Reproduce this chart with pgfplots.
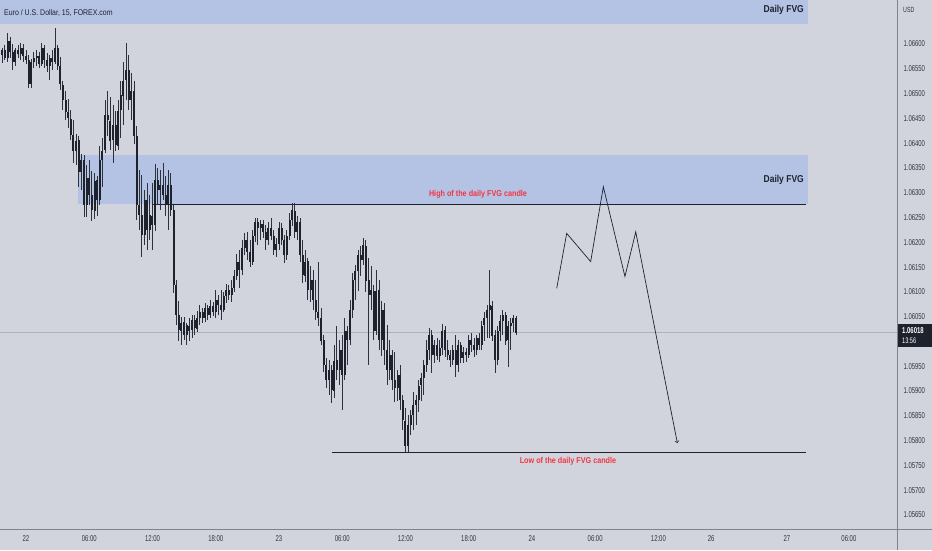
\documentclass[border=0pt]{standalone}
\usepackage{pgfplots}
\pgfplotsset{compat=1.18}
\usepackage{pgfplotstable}
\usepackage{fontspec}
\setmainfont{Liberation Sans}[FakeStretch=0.85]
\newfontfamily\narrowfont{Liberation Sans}[FakeStretch=0.7]
\definecolor{bg}{RGB}{209,212,220}
\definecolor{band}{RGB}{180,194,228}
\definecolor{candle}{RGB}{30,34,45}
\definecolor{wick}{RGB}{45,49,60}
\definecolor{tvred}{RGB}{242,54,69}
\definecolor{axtext}{RGB}{50,53,63}
\definecolor{lastline}{RGB}{175,178,187}
\definecolor{border}{RGB}{128,131,142}

\pgfplotstableread{
x o h l c
-9 1.06578 1.06592 1.06562 1.06588
-8 1.06588 1.06598 1.06568 1.06572
-7 1.06572 1.06624 1.06564 1.06608
-6 1.06608 1.06616 1.06572 1.06584
-5 1.06584 1.06600 1.06548 1.06564
-4 1.06564 1.06592 1.06556 1.06588
-3 1.06588 1.06598 1.06572 1.06580
-2 1.06580 1.06602 1.06568 1.06592
-1 1.06592 1.06600 1.06564 1.06576
0 1.06576 1.06588 1.06560 1.06568
1 1.06568 1.06578 1.06511 1.06519
2 1.06519 1.06572 1.06513 1.06564
3 1.06564 1.06584 1.06552 1.06572
4 1.06572 1.06588 1.06556 1.06576
5 1.06576 1.06584 1.06552 1.06560
6 1.06560 1.06602 1.06556 1.06592
7 1.06592 1.06598 1.06552 1.06568
8 1.06568 1.06582 1.06544 1.06556
9 1.06556 1.06578 1.06527 1.06572
10 1.06572 1.06588 1.06548 1.06564
11 1.06564 1.06634 1.06560 1.06592
12 1.06592 1.06598 1.06548 1.06556
13 1.06556 1.06574 1.06507 1.06519
14 1.06519 1.06527 1.06467 1.06487
15 1.06487 1.06507 1.06447 1.06463
16 1.06463 1.06491 1.06432 1.06451
17 1.06451 1.06467 1.06406 1.06418
18 1.06418 1.06447 1.06360 1.06386
19 1.06386 1.06420 1.06356 1.06406
20 1.06406 1.06416 1.06312 1.06342
21 1.06342 1.06380 1.06306 1.06366
22 1.06366 1.06376 1.06251 1.06275
23 1.06275 1.06356 1.06251 1.06330
24 1.06330 1.06366 1.06275 1.06296
25 1.06296 1.06346 1.06245 1.06265
26 1.06265 1.06342 1.06249 1.06326
27 1.06326 1.06336 1.06255 1.06286
28 1.06286 1.06396 1.06276 1.06366
29 1.06366 1.06412 1.06312 1.06386
30 1.06386 1.06487 1.06380 1.06457
31 1.06457 1.06507 1.06416 1.06447
32 1.06447 1.06493 1.06386 1.06406
33 1.06406 1.06477 1.06360 1.06437
34 1.06437 1.06467 1.06386 1.06396
35 1.06396 1.06487 1.06386 1.06467
36 1.06467 1.06527 1.06412 1.06497
37 1.06497 1.06564 1.06437 1.06527
38 1.06527 1.06602 1.06487 1.06548
39 1.06548 1.06578 1.06467 1.06487
40 1.06487 1.06542 1.06447 1.06507
41 1.06507 1.06527 1.06400 1.06416
42 1.06416 1.06436 1.06245 1.06276
43 1.06276 1.06346 1.06225 1.06255
44 1.06255 1.06336 1.06171 1.06215
45 1.06215 1.06306 1.06195 1.06286
46 1.06286 1.06320 1.06185 1.06225
47 1.06225 1.06296 1.06205 1.06255
48 1.06255 1.06320 1.06185 1.06235
49 1.06235 1.06360 1.06225 1.06326
50 1.06326 1.06350 1.06276 1.06306
51 1.06306 1.06346 1.06265 1.06316
52 1.06316 1.06360 1.06286 1.06296
53 1.06296 1.06336 1.06255 1.06276
54 1.06276 1.06346 1.06225 1.06316
55 1.06316 1.06342 1.06255 1.06265
56 1.06265 1.06276 1.06098 1.06114
57 1.06114 1.06124 1.06033 1.06054
58 1.06054 1.06084 1.06003 1.06023
59 1.06023 1.06050 1.05993 1.06039
60 1.06039 1.06050 1.06003 1.06013
61 1.06013 1.06039 1.05993 1.06033
62 1.06033 1.06048 1.06003 1.06023
63 1.06023 1.06054 1.06009 1.06044
64 1.06044 1.06054 1.06013 1.06027
65 1.06027 1.06060 1.06019 1.06048
66 1.06048 1.06074 1.06033 1.06060
67 1.06060 1.06068 1.06037 1.06048
68 1.06048 1.06078 1.06039 1.06068
69 1.06068 1.06074 1.06044 1.06054
70 1.06054 1.06084 1.06048 1.06072
71 1.06072 1.06080 1.06052 1.06060
72 1.06060 1.06104 1.06048 1.06084
73 1.06084 1.06094 1.06054 1.06074
74 1.06074 1.06104 1.06044 1.06064
75 1.06064 1.06100 1.06060 1.06092
76 1.06092 1.06116 1.06078 1.06104
77 1.06104 1.06114 1.06084 1.06094
78 1.06094 1.06124 1.06080 1.06108
79 1.06108 1.06144 1.06100 1.06132
80 1.06132 1.06175 1.06124 1.06161
81 1.06161 1.06185 1.06110 1.06144
82 1.06144 1.06205 1.06134 1.06189
83 1.06189 1.06219 1.06175 1.06205
84 1.06205 1.06221 1.06165 1.06181
85 1.06181 1.06205 1.06150 1.06161
86 1.06161 1.06225 1.06154 1.06213
87 1.06213 1.06249 1.06201 1.06241
88 1.06241 1.06249 1.06195 1.06229
89 1.06229 1.06245 1.06205 1.06237
90 1.06237 1.06245 1.06209 1.06221
91 1.06221 1.06235 1.06185 1.06205
92 1.06205 1.06241 1.06195 1.06229
93 1.06229 1.06249 1.06205 1.06213
94 1.06213 1.06225 1.06175 1.06185
95 1.06185 1.06209 1.06171 1.06197
96 1.06197 1.06241 1.06185 1.06229
97 1.06229 1.06239 1.06195 1.06205
98 1.06205 1.06215 1.06159 1.06175
99 1.06175 1.06225 1.06165 1.06213
100 1.06213 1.06261 1.06205 1.06245
101 1.06245 1.06280 1.06235 1.06265
102 1.06265 1.06280 1.06209 1.06221
103 1.06221 1.06255 1.06205 1.06241
104 1.06241 1.06249 1.06161 1.06175
105 1.06175 1.06205 1.06118 1.06134
106 1.06134 1.06185 1.06120 1.06161
107 1.06161 1.06169 1.06084 1.06104
108 1.06104 1.06154 1.06080 1.06124
109 1.06124 1.06144 1.06064 1.06084
110 1.06084 1.06124 1.06044 1.06060
111 1.06060 1.06161 1.06033 1.06048
112 1.06048 1.06068 1.05993 1.06003
113 1.06003 1.06013 1.05939 1.05953
114 1.05953 1.05967 1.05906 1.05923
115 1.05923 1.05963 1.05892 1.05943
116 1.05943 1.05953 1.05878 1.05902
117 1.05902 1.05993 1.05886 1.05963
118 1.05963 1.06033 1.05923 1.05943
119 1.05943 1.06003 1.05912 1.05983
120 1.05983 1.06013 1.05862 1.05933
121 1.05933 1.06048 1.05923 1.06023
122 1.06023 1.06033 1.05953 1.06003
123 1.06003 1.06084 1.05993 1.06064
124 1.06064 1.06140 1.06048 1.06124
125 1.06124 1.06154 1.06084 1.06144
126 1.06144 1.06185 1.06104 1.06175
127 1.06175 1.06195 1.06134 1.06165
128 1.06165 1.06209 1.06154 1.06195
129 1.06195 1.06205 1.06100 1.06124
130 1.06124 1.06169 1.05953 1.06094
131 1.06094 1.06154 1.06064 1.06104
132 1.06104 1.06114 1.06003 1.06023
133 1.06023 1.06144 1.06013 1.06104
134 1.06104 1.06124 1.05983 1.06003
135 1.06003 1.06084 1.05973 1.06064
136 1.06064 1.06080 1.05953 1.05983
137 1.05983 1.06033 1.05912 1.05943
138 1.05943 1.06003 1.05923 1.05973
139 1.05973 1.05983 1.05902 1.05923
140 1.05923 1.05979 1.05878 1.05906
141 1.05906 1.05943 1.05882 1.05933
142 1.05933 1.05953 1.05862 1.05882
143 1.05882 1.05892 1.05822 1.05842
144 1.05842 1.05866 1.05777 1.05791
145 1.05791 1.05852 1.05777 1.05832
146 1.05832 1.05862 1.05812 1.05852
147 1.05852 1.05898 1.05822 1.05872
148 1.05872 1.05892 1.05832 1.05882
149 1.05882 1.05923 1.05858 1.05912
150 1.05912 1.05937 1.05882 1.05927
151 1.05927 1.05963 1.05892 1.05953
152 1.05953 1.06003 1.05939 1.05983
153 1.05983 1.06029 1.05963 1.06013
154 1.06013 1.06023 1.05937 1.05973
155 1.05973 1.06003 1.05957 1.05993
156 1.05993 1.06007 1.05963 1.05971
157 1.05971 1.06003 1.05959 1.05987
158 1.05987 1.06037 1.05973 1.06023
159 1.06023 1.06033 1.05969 1.05983
160 1.05983 1.06003 1.05963 1.05973
161 1.05973 1.05983 1.05949 1.05963
162 1.05963 1.05993 1.05953 1.05983
163 1.05983 1.06013 1.05929 1.05953
164 1.05953 1.06003 1.05939 1.05993
165 1.05993 1.05999 1.05957 1.05967
166 1.05967 1.05989 1.05957 1.05979
167 1.05979 1.05987 1.05959 1.05973
168 1.05973 1.06013 1.05967 1.06003
169 1.06003 1.06019 1.05979 1.05993
170 1.05993 1.06007 1.05969 1.05983
171 1.05983 1.06013 1.05973 1.06007
172 1.06007 1.06019 1.05983 1.05993
173 1.05993 1.06043 1.05983 1.06033
174 1.06033 1.06060 1.06003 1.06048
175 1.06048 1.06074 1.06007 1.06064
176 1.06064 1.06144 1.06007 1.06074
177 1.06074 1.06084 1.06003 1.06013
178 1.06013 1.06023 1.05937 1.05963
179 1.05963 1.06033 1.05953 1.06023
180 1.06023 1.06054 1.06003 1.06043
181 1.06043 1.06064 1.06013 1.06054
182 1.06054 1.06060 1.05993 1.06003
183 1.06003 1.06043 1.05949 1.06033
184 1.06033 1.06048 1.05983 1.06039
185 1.06039 1.06054 1.06019 1.06048
186 1.06048 1.06052 1.06013 1.06018
}\candles

\begin{document}
\begin{tikzpicture}[x=1pt,y=1pt]
\useasboundingbox (0,-21) rectangle (932,529);
\fill[bg] (0,-21) rectangle (932,529);
\begin{axis}[
  at={(0,0)}, anchor=south west,
  scale only axis, width=897pt, height=529pt,
  xmin=-9.867, xmax=330.55, ymin=1.056217, ymax=1.066887,
  axis line style={draw=none}, major tick length=0pt,
  scaled y ticks=false,
  xtick={0,24,48,72,96,120,144,168,192,216,240,260,288.8,312.3},
  xticklabels={22,06:00,12:00,18:00,23,06:00,12:00,18:00,24,06:00,12:00,26,27,06:00},
  x tick label style={font=\narrowfont\fontsize{8.5}{10}\selectfont, text=axtext, yshift=-3.5pt},
  ytick={1.0565,1.057,1.0575,1.058,1.0585,1.059,1.0595,1.0605,1.061,1.0615,1.062,1.0625,1.063,1.0635,1.064,1.0645,1.065,1.0655,1.066},
  yticklabel pos=right,
  y tick label style={font=\narrowfont\fontsize{8.5}{10}\selectfont, text=axtext, xshift=3pt,
    /pgf/number format/fixed, /pgf/number format/fixed zerofill,
    /pgf/number format/precision=5, /pgf/number format/assume math mode=true},
  clip=true,
]
% FVG zones
\addplot[fill=band, draw=none, forget plot] coordinates {(-9.867,1.06640) (296.6,1.06640) (296.6,1.06700) (-9.867,1.06700)};
\addplot[fill=band, draw=none, forget plot] coordinates {(19.7,1.06277) (296.6,1.06277) (296.6,1.06376) (19.7,1.06376)};
% last price line
\addplot[lastline, line width=0.5pt, forget plot] coordinates {(-9.867,1.06018) (330.55,1.06018)};
% high / low lines
\addplot[candle, line width=1pt, forget plot] coordinates {(47.8,1.06277) (296.2,1.06277)};
\addplot[candle, line width=1pt, forget plot] coordinates {(116.1,1.05777) (296.2,1.05777)};
% wicks
\addplot[draw=none, mark=none, forget plot,
  error bars/.cd, y dir=both, y explicit, error mark=none,
  error bar style={draw=wick, line width=0.9pt}]
  table[x=x, y expr={(\thisrow{h}+\thisrow{l})/2}, y error expr={(\thisrow{h}-\thisrow{l})/2}] {\candles};
% bodies
\addplot[draw=none, mark=none, forget plot,
  error bars/.cd, y dir=both, y explicit, error mark=none,
  error bar style={draw=candle, line width=2pt}]
  table[x=x, y expr={(\thisrow{o}+\thisrow{c})/2}, y error expr={abs(\thisrow{o}-\thisrow{c})/2}] {\candles};
% projected path
\addplot[candle, line width=0.7pt, ->, forget plot] coordinates {(201.4,1.06107) (205.2,1.06218) (214.3,1.06161) (219.1,1.06312) (227.3,1.06131) (231.4,1.06221) (247.2,1.05795)};
\end{axis}
% frame of the price and time scales
\draw[border, line width=0.8pt] (897,-21) -- (897,529);
\draw[border, line width=0.8pt] (0,0) -- (932,0);
% texts
\node[anchor=west, inner sep=0pt, font=\fontsize{8.2}{9}\selectfont, text=candle] at (4,516) {Euro / U.S. Dollar, 15, FOREX.com};
\node[anchor=east, inner sep=0pt, font=\bfseries\fontsize{10}{12}\selectfont, text=candle] at (804,519) {Daily FVG};
\node[anchor=east, inner sep=0pt, font=\bfseries\fontsize{10}{12}\selectfont, text=candle] at (804,349) {Daily FVG};
\node[inner sep=0pt, font=\bfseries\fontsize{8.5}{10}\selectfont, text=tvred] at (478,334.5) {High of the daily FVG candle};
\node[inner sep=0pt, font=\bfseries\fontsize{8.5}{10}\selectfont, text=tvred] at (568,67.5) {Low of the daily FVG candle};
\node[anchor=west, inner sep=0pt, font=\narrowfont\fontsize{7.5}{9}\selectfont, text=axtext] at (903,519) {USD};
\fill[candle] (897.5,182) rectangle (932,205);
\node[anchor=west, inner sep=0pt, font=\narrowfont\bfseries\fontsize{8.5}{10}\selectfont, text=white] at (902,198) {1.06018};
\node[anchor=west, inner sep=0pt, font=\narrowfont\fontsize{8}{9}\selectfont, text=white] at (902,188) {13:56};
\end{tikzpicture}
\end{document}
